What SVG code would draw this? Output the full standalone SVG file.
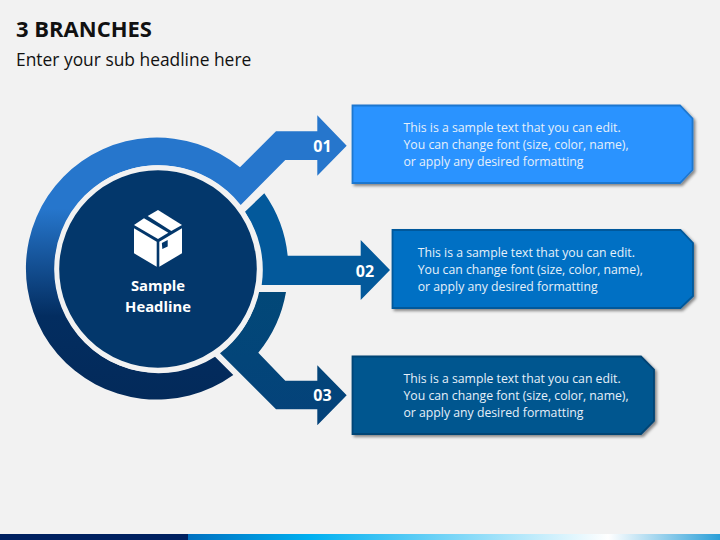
<svg xmlns="http://www.w3.org/2000/svg" width="720" height="540" viewBox="0 0 720 540">
<style>
text{font-family:"Open Sans","Noto Sans",sans-serif}
.t{font-size:12.25px;fill:#e6f0fa}
.n{font-size:16px;font-weight:700;fill:#fff;text-anchor:middle}
.h{font-size:14.8px;font-weight:700;fill:#fff;text-anchor:middle}
.box{stroke-width:1.8;filter:url(#sh)}
</style>
<defs>
<linearGradient id="g1" gradientUnits="userSpaceOnUse" x1="0" y1="138" x2="0" y2="400">
<stop offset="0.27" stop-color="#2676cc"/><stop offset="0.68" stop-color="#032d60"/><stop offset="1" stop-color="#032a5a"/>
</linearGradient>
<linearGradient id="g3" gradientUnits="userSpaceOnUse" x1="0" y1="292" x2="0" y2="425">
<stop offset="0" stop-color="#024878"/><stop offset="1" stop-color="#04427a"/>
</linearGradient>
<linearGradient id="bar" gradientUnits="userSpaceOnUse" x1="188" y1="0" x2="720" y2="0">
<stop offset="0" stop-color="#0070c0"/><stop offset="0.23" stop-color="#00b0f0"/><stop offset="0.79" stop-color="#ffffff"/><stop offset="1" stop-color="#2a9fd8"/>
</linearGradient>
<filter id="sh" x="-5%" y="-10%" width="112%" height="125%">
<feDropShadow dx="2" dy="2" stdDeviation="1.5" flood-color="#000" flood-opacity="0.45"/>
</filter>
</defs>
<rect width="720" height="540" fill="#f2f2f2"/>
<rect y="534" width="188" height="6" fill="#002060"/>
<rect x="188" y="534" width="532" height="6" fill="url(#bar)"/>
<text id="title" x="16" y="37" font-size="22" font-weight="700" fill="#111">3 BRANCHES</text>
<text id="subtitle" x="16" y="66" font-size="17.4" fill="#111">Enter your sub headline here</text>
<g id="connectors">
<path id="branch-1" fill="url(#g1)" d="M240,167.3L276,131.3H317.3V115.3L346.7,145.7L317.3,175.7V160H285.3L240.7,205A104,104 0 1 0 215,356.7L233.3,375A131,131 0 1 1 240,167.3Z"/>
<path id="branch-2" fill="#03599b" d="M245,211.7L264.3,193.3A131,131 0 0 1 287.7,255.7H360.7V240L390,270L360.7,300V285H261.7A104,104 0 0 0 245,211.7Z"/>
<path id="branch-3" fill="url(#g3)" d="M258.3,292H286A131,131 0 0 1 258.3,352.7L285.3,380.7H317.3V365.3L346.7,395.3L317.3,425.3V409.3H276L220,353.3A104,104 0 0 0 258.3,292Z"/>
<text class="n" x="322.5" y="151.7">01</text>
<text class="n" x="365" y="276.7">02</text>
<text class="n" x="322.5" y="401">03</text>
</g>
<g id="center">
<circle cx="158" cy="269" r="101.3" fill="#03376b" stroke="#f2f2f2" stroke-width="5"/>
<g fill="#fff">
<path d="M147.7,216L158,210L182,225L171.3,231Z"/>
<path d="M134,225L144,218.3L168.3,232.7L158,239Z"/>
<path d="M134,228.3L156.7,241.7V266.7L134,253.3Z"/>
<path d="M159.3,241.7L182,228.3V253.3L159.3,266.7Z"/>
</g>
<path fill="#03376b" d="M161.9,242.9L167.7,240V246.4L162.3,249Z"/>
<text class="h" x="158" y="291">Sample</text>
<text class="h" x="158" y="312">Headline</text>
</g>
<g id="box-1">
<path class="box" fill="#2b93ff" stroke="#1f77cf" d="M352.5,105.5H680L692.5,118.5V170L680,183H352.5Z"/>
<text class="t" x="403.5" y="131.7">This is a sample text that you can edit.</text>
<text class="t" x="403.5" y="149">You can change font (size, color, name),</text>
<text class="t" x="403.5" y="166">or apply any desired formatting</text>
</g>
<g id="box-2">
<path class="box" fill="#0070c4" stroke="#03599b" d="M392.5,230H680.5L693,243V296L680.5,308H392.5Z"/>
<text class="t" x="417.7" y="256.7">This is a sample text that you can edit.</text>
<text class="t" x="417.7" y="274">You can change font (size, color, name),</text>
<text class="t" x="417.7" y="291">or apply any desired formatting</text>
</g>
<g id="box-3">
<path class="box" fill="#03568f" stroke="#034475" d="M352.5,356.5H641L654,369.5V421L641,434H352.5Z"/>
<text class="t" x="403.5" y="382.7">This is a sample text that you can edit.</text>
<text class="t" x="403.5" y="400">You can change font (size, color, name),</text>
<text class="t" x="403.5" y="417">or apply any desired formatting</text>
</g>
</svg>
